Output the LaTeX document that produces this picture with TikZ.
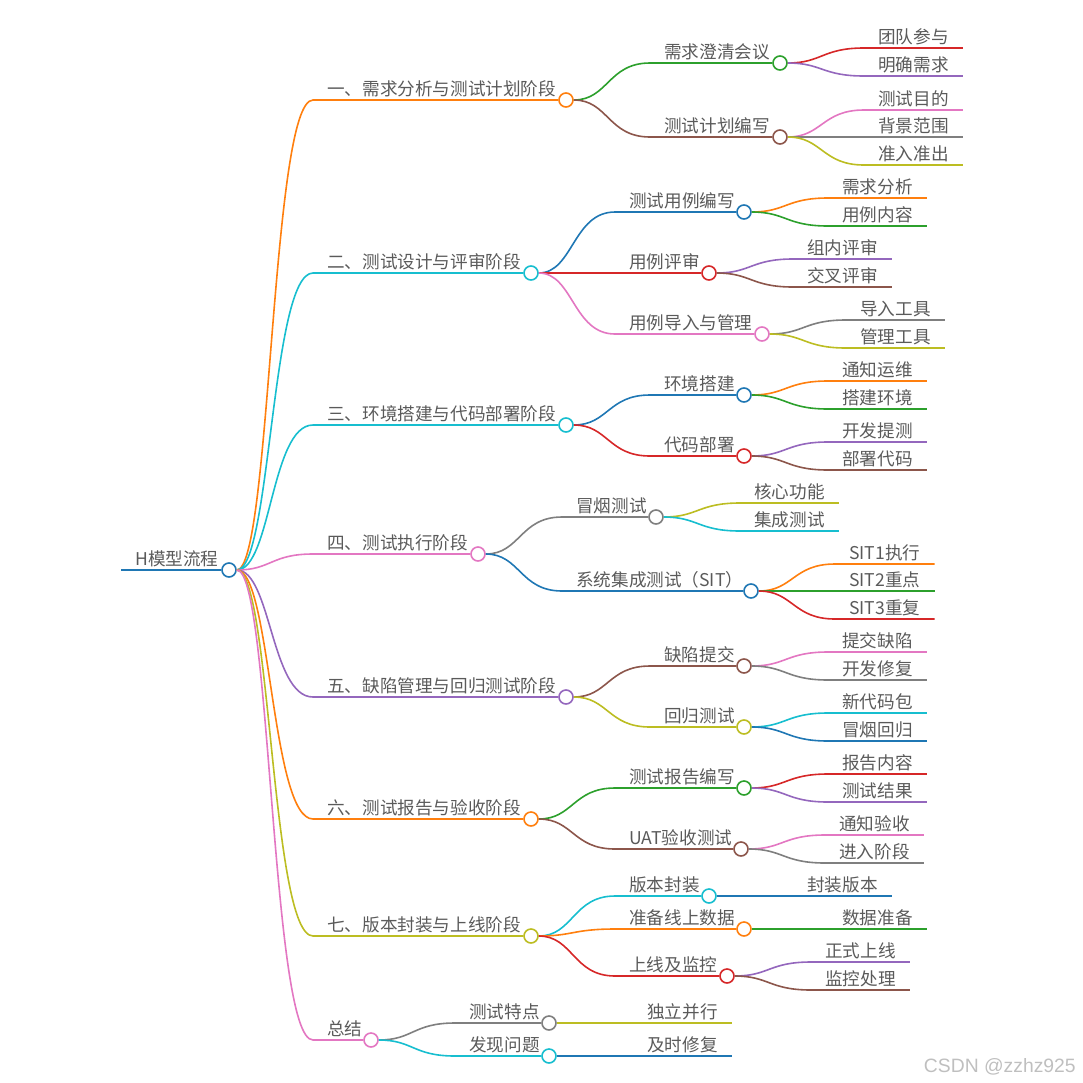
\documentclass[tikz,border=0pt]{standalone}
\usepackage{fontspec}
\setmainfont{Noto Sans CJK SC}
\newfontfamily\wmfont{Liberation Sans}
\usepackage{xcolor}
\usepackage{tikz}
\definecolor{txtgray}{RGB}{90,90,90}
\definecolor{cBlue}{HTML}{1F77B4}
\definecolor{cOrange}{HTML}{FF7F0E}
\definecolor{cGreen}{HTML}{2CA02C}
\definecolor{cRed}{HTML}{D62728}
\definecolor{cPurple}{HTML}{9467BD}
\definecolor{cBrown}{HTML}{8C564B}
\definecolor{cPink}{HTML}{E377C2}
\definecolor{cGray}{HTML}{7F7F7F}
\definecolor{cOlive}{HTML}{BCBD22}
\definecolor{cCyan}{HTML}{17BECF}

\begin{document}
\begin{tikzpicture}[x=0.75pt, y=-0.75pt,
  font=\fontsize{13.2pt}{15pt}\selectfont,
  lbl/.style={anchor=south west, inner xsep=10.5pt, inner ysep=1.8pt,
    text depth=0.15em, text=txtgray},
  dot/.style={circle, fill=white, line width=1.2pt, minimum size=10.5pt, inner sep=0pt},
  ln/.style={line width=1.2pt}]
\useasboundingbox (0,0) rectangle (1083,1083);
% ---- root ----
\node[lbl] (tH) at (121,570) {H模型流程};
\node[dot, draw=cBlue] (H) at (229,570) {};
\draw[ln, cBlue] (tH.south west) -- (H);
% ---- stage 1 ----
\node[lbl] (tS1) at (313,100) {一、需求分析与测试计划阶段};
\node[dot, draw=cOrange] (S1) at (566,100) {};
\draw[ln, cOrange] (H) .. controls +(42,0) and +(-42,0) .. (tS1.south west) -- (S1);
\node[lbl] (tS1a) at (650,63) {需求澄清会议};
\node[dot, draw=cGreen] (S1a) at (780,63) {};
\draw[ln, cGreen] (S1) .. controls +(42,0) and +(-42,0) .. (tS1a.south west) -- (S1a);
\node[lbl] (tS1a1) at (864,48) {团队参与};
\draw[ln, cRed] (S1a) .. controls +(42,0) and +(-42,0) .. (tS1a1.south west) -- (tS1a1.south east);
\node[lbl] (tS1a2) at (864,76) {明确需求};
\draw[ln, cPurple] (S1a) .. controls +(42,0) and +(-42,0) .. (tS1a2.south west) -- (tS1a2.south east);
\node[lbl] (tS1b) at (650,137) {测试计划编写};
\node[dot, draw=cBrown] (S1b) at (780,137) {};
\draw[ln, cBrown] (S1) .. controls +(42,0) and +(-42,0) .. (tS1b.south west) -- (S1b);
\node[lbl] (tS1b1) at (864,110) {测试目的};
\draw[ln, cPink] (S1b) .. controls +(42,0) and +(-42,0) .. (tS1b1.south west) -- (tS1b1.south east);
\node[lbl] (tS1b2) at (864,137) {背景范围};
\draw[ln, cGray] (S1b) -- (tS1b2.south east);
\node[lbl] (tS1b3) at (864,165) {准入准出};
\draw[ln, cOlive] (S1b) .. controls +(42,0) and +(-42,0) .. (tS1b3.south west) -- (tS1b3.south east);
% ---- stage 2 ----
\node[lbl] (tS2) at (313,273) {二、测试设计与评审阶段};
\node[dot, draw=cCyan] (S2) at (531,273) {};
\draw[ln, cCyan] (H) .. controls +(42,0) and +(-42,0) .. (tS2.south west) -- (S2);
\node[lbl] (tS2a) at (615,212) {测试用例编写};
\node[dot, draw=cBlue] (S2a) at (744,212) {};
\draw[ln, cBlue] (S2) .. controls +(42,0) and +(-42,0) .. (tS2a.south west) -- (S2a);
\node[lbl] (tS2a1) at (828,198) {需求分析};
\draw[ln, cOrange] (S2a) .. controls +(42,0) and +(-42,0) .. (tS2a1.south west) -- (tS2a1.south east);
\node[lbl] (tS2a2) at (828,226) {用例内容};
\draw[ln, cGreen] (S2a) .. controls +(42,0) and +(-42,0) .. (tS2a2.south west) -- (tS2a2.south east);
\node[lbl] (tS2b) at (615,273) {用例评审};
\node[dot, draw=cRed] (S2b) at (709,273) {};
\draw[ln, cRed] (S2) -- (S2b);
\node[lbl] (tS2b1) at (793,259) {组内评审};
\draw[ln, cPurple] (S2b) .. controls +(42,0) and +(-42,0) .. (tS2b1.south west) -- (tS2b1.south east);
\node[lbl] (tS2b2) at (793,287) {交叉评审};
\draw[ln, cBrown] (S2b) .. controls +(42,0) and +(-42,0) .. (tS2b2.south west) -- (tS2b2.south east);
\node[lbl] (tS2c) at (615,334) {用例导入与管理};
\node[dot, draw=cPink] (S2c) at (762,334) {};
\draw[ln, cPink] (S2) .. controls +(42,0) and +(-42,0) .. (tS2c.south west) -- (S2c);
\node[lbl] (tS2c1) at (846,320) {导入工具};
\draw[ln, cGray] (S2c) .. controls +(42,0) and +(-42,0) .. (tS2c1.south west) -- (tS2c1.south east);
\node[lbl] (tS2c2) at (846,348) {管理工具};
\draw[ln, cOlive] (S2c) .. controls +(42,0) and +(-42,0) .. (tS2c2.south west) -- (tS2c2.south east);
% ---- stage 3 ----
\node[lbl] (tS3) at (313,425) {三、环境搭建与代码部署阶段};
\node[dot, draw=cCyan] (S3) at (566,425) {};
\draw[ln, cCyan] (H) .. controls +(42,0) and +(-42,0) .. (tS3.south west) -- (S3);
\node[lbl] (tS3a) at (650,395) {环境搭建};
\node[dot, draw=cBlue] (S3a) at (744,395) {};
\draw[ln, cBlue] (S3) .. controls +(42,0) and +(-42,0) .. (tS3a.south west) -- (S3a);
\node[lbl] (tS3a1) at (828,381) {通知运维};
\draw[ln, cOrange] (S3a) .. controls +(42,0) and +(-42,0) .. (tS3a1.south west) -- (tS3a1.south east);
\node[lbl] (tS3a2) at (828,409) {搭建环境};
\draw[ln, cGreen] (S3a) .. controls +(42,0) and +(-42,0) .. (tS3a2.south west) -- (tS3a2.south east);
\node[lbl] (tS3b) at (650,456) {代码部署};
\node[dot, draw=cRed] (S3b) at (744,456) {};
\draw[ln, cRed] (S3) .. controls +(42,0) and +(-42,0) .. (tS3b.south west) -- (S3b);
\node[lbl] (tS3b1) at (828,442) {开发提测};
\draw[ln, cPurple] (S3b) .. controls +(42,0) and +(-42,0) .. (tS3b1.south west) -- (tS3b1.south east);
\node[lbl] (tS3b2) at (828,470) {部署代码};
\draw[ln, cBrown] (S3b) .. controls +(42,0) and +(-42,0) .. (tS3b2.south west) -- (tS3b2.south east);
% ---- stage 4 ----
\node[lbl] (tS4) at (313,554) {四、测试执行阶段};
\node[dot, draw=cPink] (S4) at (478,554) {};
\draw[ln, cPink] (H) .. controls +(42,0) and +(-42,0) .. (tS4.south west) -- (S4);
\node[lbl] (tS4a) at (562,517) {冒烟测试};
\node[dot, draw=cGray] (S4a) at (656,517) {};
\draw[ln, cGray] (S4) .. controls +(42,0) and +(-42,0) .. (tS4a.south west) -- (S4a);
\node[lbl] (tS4a1) at (740,503) {核心功能};
\draw[ln, cOlive] (S4a) .. controls +(42,0) and +(-42,0) .. (tS4a1.south west) -- (tS4a1.south east);
\node[lbl] (tS4a2) at (740,531) {集成测试};
\draw[ln, cCyan] (S4a) .. controls +(42,0) and +(-42,0) .. (tS4a2.south west) -- (tS4a2.south east);
\node[lbl] (tS4b) at (562,591) {系统集成测试（SIT）};
\node[dot, draw=cBlue] (S4b) at (751,591) {};
\draw[ln, cBlue] (S4) .. controls +(42,0) and +(-42,0) .. (tS4b.south west) -- (S4b);
\node[lbl] (tS4b1) at (835,564) {SIT1执行};
\draw[ln, cOrange] (S4b) .. controls +(42,0) and +(-42,0) .. (tS4b1.south west) -- (tS4b1.south east);
\node[lbl] (tS4b2) at (835,591) {SIT2重点};
\draw[ln, cGreen] (S4b) -- (tS4b2.south east);
\node[lbl] (tS4b3) at (835,619) {SIT3重复};
\draw[ln, cRed] (S4b) .. controls +(42,0) and +(-42,0) .. (tS4b3.south west) -- (tS4b3.south east);
% ---- stage 5 ----
\node[lbl] (tS5) at (313,697) {五、缺陷管理与回归测试阶段};
\node[dot, draw=cPurple] (S5) at (566,697) {};
\draw[ln, cPurple] (H) .. controls +(42,0) and +(-42,0) .. (tS5.south west) -- (S5);
\node[lbl] (tS5a) at (650,666) {缺陷提交};
\node[dot, draw=cBrown] (S5a) at (744,666) {};
\draw[ln, cBrown] (S5) .. controls +(42,0) and +(-42,0) .. (tS5a.south west) -- (S5a);
\node[lbl] (tS5a1) at (828,652) {提交缺陷};
\draw[ln, cPink] (S5a) .. controls +(42,0) and +(-42,0) .. (tS5a1.south west) -- (tS5a1.south east);
\node[lbl] (tS5a2) at (828,680) {开发修复};
\draw[ln, cGray] (S5a) .. controls +(42,0) and +(-42,0) .. (tS5a2.south west) -- (tS5a2.south east);
\node[lbl] (tS5b) at (650,727) {回归测试};
\node[dot, draw=cOlive] (S5b) at (744,727) {};
\draw[ln, cOlive] (S5) .. controls +(42,0) and +(-42,0) .. (tS5b.south west) -- (S5b);
\node[lbl] (tS5b1) at (828,713) {新代码包};
\draw[ln, cCyan] (S5b) .. controls +(42,0) and +(-42,0) .. (tS5b1.south west) -- (tS5b1.south east);
\node[lbl] (tS5b2) at (828,741) {冒烟回归};
\draw[ln, cBlue] (S5b) .. controls +(42,0) and +(-42,0) .. (tS5b2.south west) -- (tS5b2.south east);
% ---- stage 6 ----
\node[lbl] (tS6) at (313,819) {六、测试报告与验收阶段};
\node[dot, draw=cOrange] (S6) at (531,819) {};
\draw[ln, cOrange] (H) .. controls +(42,0) and +(-42,0) .. (tS6.south west) -- (S6);
\node[lbl] (tS6a) at (615,788) {测试报告编写};
\node[dot, draw=cGreen] (S6a) at (744,788) {};
\draw[ln, cGreen] (S6) .. controls +(42,0) and +(-42,0) .. (tS6a.south west) -- (S6a);
\node[lbl] (tS6a1) at (828,774) {报告内容};
\draw[ln, cRed] (S6a) .. controls +(42,0) and +(-42,0) .. (tS6a1.south west) -- (tS6a1.south east);
\node[lbl] (tS6a2) at (828,802) {测试结果};
\draw[ln, cPurple] (S6a) .. controls +(42,0) and +(-42,0) .. (tS6a2.south west) -- (tS6a2.south east);
\node[lbl] (tS6b) at (615,849) {UAT验收测试};
\node[dot, draw=cBrown] (S6b) at (741,849) {};
\draw[ln, cBrown] (S6) .. controls +(42,0) and +(-42,0) .. (tS6b.south west) -- (S6b);
\node[lbl] (tS6b1) at (825,835) {通知验收};
\draw[ln, cPink] (S6b) .. controls +(42,0) and +(-42,0) .. (tS6b1.south west) -- (tS6b1.south east);
\node[lbl] (tS6b2) at (825,863) {进入阶段};
\draw[ln, cGray] (S6b) .. controls +(42,0) and +(-42,0) .. (tS6b2.south west) -- (tS6b2.south east);
% ---- stage 7 ----
\node[lbl] (tS7) at (313,936) {七、版本封装与上线阶段};
\node[dot, draw=cOlive] (S7) at (531,936) {};
\draw[ln, cOlive] (H) .. controls +(42,0) and +(-42,0) .. (tS7.south west) -- (S7);
\node[lbl] (tS7a) at (615,896) {版本封装};
\node[dot, draw=cCyan] (S7a) at (709,896) {};
\draw[ln, cCyan] (S7) .. controls +(42,0) and +(-42,0) .. (tS7a.south west) -- (S7a);
\node[lbl] (tS7a1) at (793,896) {封装版本};
\draw[ln, cBlue] (S7a) -- (tS7a1.south east);
\node[lbl] (tS7b) at (615,929) {准备线上数据};
\node[dot, draw=cOrange] (S7b) at (744,929) {};
\draw[ln, cOrange] (S7) .. controls +(42,0) and +(-42,0) .. (tS7b.south west) -- (S7b);
\node[lbl] (tS7b1) at (828,929) {数据准备};
\draw[ln, cGreen] (S7b) -- (tS7b1.south east);
\node[lbl] (tS7c) at (615,976) {上线及监控};
\node[dot, draw=cRed] (S7c) at (727,976) {};
\draw[ln, cRed] (S7) .. controls +(42,0) and +(-42,0) .. (tS7c.south west) -- (S7c);
\node[lbl] (tS7c1) at (811,962) {正式上线};
\draw[ln, cPurple] (S7c) .. controls +(42,0) and +(-42,0) .. (tS7c1.south west) -- (tS7c1.south east);
\node[lbl] (tS7c2) at (811,990) {监控处理};
\draw[ln, cBrown] (S7c) .. controls +(42,0) and +(-42,0) .. (tS7c2.south west) -- (tS7c2.south east);
% ---- summary ----
\node[lbl] (tS8) at (313,1040) {总结};
\node[dot, draw=cPink] (S8) at (371,1040) {};
\draw[ln, cPink] (H) .. controls +(42,0) and +(-42,0) .. (tS8.south west) -- (S8);
\node[lbl] (tS8a) at (455,1023) {测试特点};
\node[dot, draw=cGray] (S8a) at (549,1023) {};
\draw[ln, cGray] (S8) .. controls +(42,0) and +(-42,0) .. (tS8a.south west) -- (S8a);
\node[lbl] (tS8a1) at (633,1023) {独立并行};
\draw[ln, cOlive] (S8a) -- (tS8a1.south east);
\node[lbl] (tS8b) at (455,1056) {发现问题};
\node[dot, draw=cCyan] (S8b) at (549,1056) {};
\draw[ln, cCyan] (S8) .. controls +(42,0) and +(-42,0) .. (tS8b.south west) -- (S8b);
\node[lbl] (tS8b1) at (633,1056) {及时修复};
\draw[ln, cBlue] (S8b) -- (tS8b1.south east);
% ---- watermark ----
\node[anchor=east, inner sep=0pt, text=black!25, font=\wmfont\fontsize{14.5pt}{16pt}\selectfont] (wm) at (1076,1067) {CSDN @zzhz925};
\end{tikzpicture}
\end{document}
